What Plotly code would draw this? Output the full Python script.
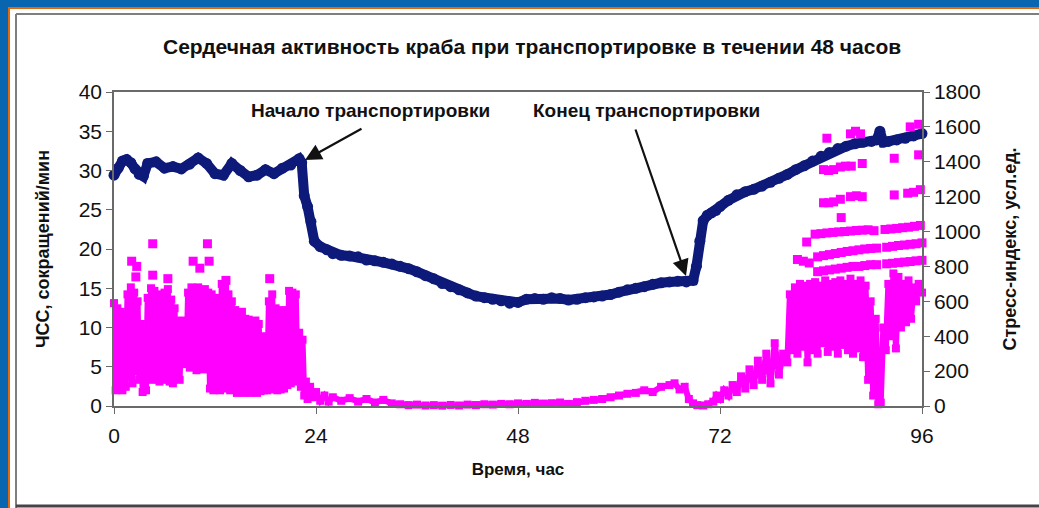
import plotly.graph_objects as go

# ---------------- data ----------------
hr_hours = [0, 0.5, 1, 1.5, 2, 2.5, 3, 3.5, 4, 5,
            6, 7, 8, 9, 10, 11, 12, 13, 14, 15,
            16, 17, 18, 19, 20, 21, 22, 22.3, 22.6, 23,
            23.4, 23.8, 24.5, 25.3, 26, 27, 28, 29, 30, 31,
            32, 33, 34, 35, 36, 37, 38, 39, 40, 41,
            42, 43, 44, 45, 46, 47, 48, 49, 50, 51,
            52, 53, 54, 55, 56, 57, 58, 59, 60, 61,
            62, 63, 64, 65, 66, 67, 68, 68.8, 69.2, 69.6,
            70, 70.5, 71, 71.5, 72, 73, 74, 75, 76, 77,
            78, 79, 80, 81, 82, 83, 84, 85, 86, 87,
            88, 89, 90, 90.6, 91, 91.4, 92, 93, 94, 95,
            96]
hr_values = [29.4, 30.3, 31.2, 31.4, 31.0, 30.2, 29.5, 29.3, 30.9, 31.1,
             30.3, 30.5, 30.2, 30.8, 31.6, 30.9, 29.6, 29.4, 30.9, 30.0,
             29.2, 29.4, 30.1, 29.6, 30.3, 30.7, 31.5, 31.0, 26.8, 25.4,
             23.5, 21.0, 20.3, 19.9, 19.4, 19.2, 19.1, 19.0, 18.6, 18.5,
             18.3, 18.1, 17.8, 17.5, 17.1, 16.6, 16.2, 15.6, 15.2, 14.8,
             14.4, 14.0, 13.8, 13.6, 13.4, 13.1, 13.2, 13.6, 13.7, 13.6,
             13.8, 13.7, 13.5, 13.6, 13.8, 13.9, 14.0, 14.2, 14.5, 14.8,
             15.0, 15.2, 15.5, 15.7, 15.8, 15.9, 15.8, 16.0, 17.8, 21.0,
             23.6, 24.3, 24.6, 24.9, 25.4, 26.2, 26.9, 27.3, 27.6, 28.0,
             28.5, 29.0, 29.5, 30.1, 30.6, 31.2, 31.8, 32.3, 32.8, 33.1,
             33.4, 33.6, 33.7, 33.9, 35.0, 33.6, 33.7, 33.9, 34.1, 34.4,
             34.7]

stress_hours = [0.0, 0.2, 0.4, 0.6, 0.8, 1.0, 1.2, 1.4, 1.6, 1.8,
                2.0, 2.2, 2.4, 2.6, 2.8, 3.0, 3.2, 3.4, 3.6, 3.8,
                4.0, 4.2, 4.4, 4.6, 4.8, 5.0, 5.2, 5.4, 5.6, 5.8,
                6.0, 6.2, 6.4, 6.6, 6.8, 7.0, 7.2, 7.4, 7.6, 7.8,
                8.0, 8.2, 8.4, 8.6, 8.8, 9.0, 9.2, 9.4, 9.6, 9.8,
                10.0, 10.2, 10.4, 10.6, 10.8, 11.0, 11.2, 11.4, 11.6, 11.8,
                12.0, 12.2, 12.4, 12.6, 12.8, 13.0, 13.2, 13.4, 13.6, 13.8,
                14.0, 14.2, 14.4, 14.6, 14.8, 15.0, 15.2, 15.4, 15.6, 15.8,
                16.0, 16.2, 16.4, 16.6, 16.8, 17.0, 17.2, 17.4, 17.6, 17.8,
                18.0, 18.2, 18.4, 18.6, 18.8, 19.0, 19.2, 19.4, 19.6, 19.8,
                20.0, 20.2, 20.4, 20.6, 20.8, 21.0, 21.2, 21.4, 21.6, 21.8,
                22.0, 22.2, 22.4, 22.6, 22.8, 23.0, 23.3, 23.6, 24.0, 24.5,
                25.0, 25.5, 26, 27, 28, 29, 30, 31, 32, 33,
                34, 35, 36, 37, 38, 39, 40, 41, 42, 43,
                44, 45, 46, 47, 48, 49, 50, 51, 52, 53,
                54, 55, 56, 57, 58, 59, 60, 61, 62, 63,
                64, 65, 66, 66.6, 67.2, 67.8, 68.3, 68.8, 69.3, 70,
                70.6, 71.2, 71.6, 72, 72.5, 73, 73.5, 74, 74.5, 75,
                75.5, 76, 76.5, 77, 77.5, 78, 78.5, 79, 79.5, 80,
                80.3, 80.6, 80.9, 81.2, 81.5, 81.8, 82.1, 82.4, 82.7, 83.0,
                83.3, 83.6, 83.9, 84.2, 84.5, 84.8, 85.1, 85.4, 85.7, 86.0,
                86.3, 86.6, 86.9, 87.2, 87.5, 87.8, 88.1, 88.4, 88.7, 89.0,
                89.3, 89.6, 89.9, 90.2, 90.5, 90.8, 91.1, 91.4, 91.7, 92.0,
                92.3, 92.6, 92.9, 93.2, 93.5, 93.8, 94.1, 94.4, 94.7, 95.0,
                95.3, 95.6, 96.0]
stress_values = [590, 90, 560, 100, 540, 90, 520, 110, 640, 170,
                 680, 130, 650, 200, 600, 150, 470, 80, 430, 90,
                 620, 160, 675, 150, 660, 170, 640, 140, 600, 180,
                 650, 150, 670, 140, 610, 130, 560, 160, 480, 150,
                 490, 280, 470, 240, 650, 220, 680, 240, 670, 205,
                 680, 230, 660, 210, 670, 240, 650, 100, 640, 90,
                 600, 100, 620, 90, 700, 100, 680, 120, 640, 90,
                 600, 100, 550, 75, 530, 80, 540, 75, 500, 80,
                 495, 75, 480, 80, 490, 75, 470, 85, 400, 90,
                 380, 90, 600, 100, 640, 95, 560, 90, 540, 95,
                 550, 100, 520, 120, 660, 130, 650, 140, 640, 150,
                 420, 110, 380, 60, 140, 40, 110, 50, 80, 30,
                 60, 25, 50, 30, 45, 25, 40, 20, 35, 15,
                 10, 5, 8, 3, 5, 2, 6, 3, 8, 5,
                 10, 8, 12, 10, 15, 12, 18, 14, 16, 20,
                 12, 22, 30, 35, 40, 50, 60, 70, 75, 90,
                 80, 110, 120, 130, 95, 110, 40, 15, 5, 3,
                 10, 25, 60, 40, 90, 60, 120, 80, 170, 100,
                 210, 120, 260, 150, 300, 130, 360, 180, 300, 250,
                 640, 320, 680, 300, 700, 340, 690, 250, 700, 320,
                 710, 300, 690, 360, 720, 310, 700, 340, 710, 300,
                 720, 350, 700, 320, 730, 300, 700, 330, 720, 280,
                 690, 150, 600, 60, 500, 10, 20, 450, 320, 700,
                 400, 760, 330, 740, 450, 700, 480, 720, 500, 680,
                 600, 700, 650]

stress_hi_hours = [2.1, 2.7, 2.6, 4.6, 4.6, 6.4, 9.4, 10.2, 11.1, 11.3, 13.3, 18.5,
                   81.2, 81.9, 82.6, 83.6, 84.3, 85.0, 85.7, 86.4, 87.1, 87.8,
                   88.5, 89.2, 89.9, 90.6, 91.8, 92.5, 93.2, 93.9, 94.6, 95.3, 96.0,
                   83.6, 84.3, 85.0, 85.7, 86.4, 87.1, 87.8, 88.5, 89.2, 89.9,
                   90.6, 91.8, 92.5, 93.2, 93.9, 94.6, 95.3, 96.0,
                   82.3, 83.3, 84.0, 84.7, 85.4, 86.1, 86.8, 87.5, 88.2, 88.9,
                   89.6, 90.3, 91.6, 92.3, 93.0, 93.7, 94.4, 95.1, 95.8, 96.3,
                   84.3, 84.9, 85.5, 86.3, 86.4, 87.5, 88.2, 88.9, 92.7, 94.3, 95.0, 95.8,
                   84.3, 84.9, 85.5, 86.3, 86.9, 87.6, 88.9, 92.7, 95.6,
                   84.7, 87.5, 88.1, 88.7, 94.6, 95.6]
stress_hi_values = [830, 800, 740, 930, 750, 730, 830, 790, 930, 830, 720, 730,
                    840, 830, 820, 770, 775, 780, 785, 790, 795, 800,
                    800, 805, 810, 810, 815, 818, 822, 825, 828, 832, 835,
                    855, 862, 868, 874, 880, 886, 890, 895, 900, 903,
                    905, 910, 915, 920, 923, 927, 930, 935,
                    940, 985, 988, 992, 995, 998, 1000, 1003, 1006, 1008,
                    1010, 1005, 1012, 1015, 1018, 1022, 1025, 1030, 1035, 1040,
                    1165, 1165, 1170, 1185, 1080, 1200, 1205, 1200, 1210, 1220, 1225, 1240,
                    1355, 1350, 1355, 1370, 1375, 1375, 1390, 1420, 1440,
                    1535, 1560, 1575, 1560, 1600, 1615]

x_ticks = [0, 24, 48, 72, 96]
chart_title = "Сердечная активность краба при транспортировке в течении 48 часов"
x_title = "Время, час"
y_title = "ЧСС, сокращений/мин"
y2_title = "Стресс-индекс, усл.ед."
label_start = "Начало транспортировки"
label_end = "Конец транспортировки"

# ---------------- layout geometry (pixels) ----------------
W, H = 1039, 508
PL, PR, PT, PB = 114, 922, 92, 406
FONT = "Liberation Sans, Arial, sans-serif"
NAVY = "#0D1A7A"
MAGENTA = "#FF00FF"
AXIS = "#6a6a6a"
TXT = "#111111"


def px(x):
    return (x - PL) / (PR - PL)


def py(y):
    return (PB - y) / (PB - PT)


fig = go.Figure()

fig.add_trace(go.Scatter(
    x=stress_hours, y=stress_values, yaxis="y2", mode="lines+markers",
    line=dict(color=MAGENTA, width=6),
    marker=dict(symbol="square", size=8, color=MAGENTA),
    cliponaxis=False, showlegend=False, hoverinfo="skip"))
fig.add_trace(go.Scatter(
    x=stress_hi_hours, y=stress_hi_values, yaxis="y2", mode="markers",
    marker=dict(symbol="square", size=9, color=MAGENTA),
    cliponaxis=False, showlegend=False, hoverinfo="skip"))
fig.add_trace(go.Scatter(
    x=hr_hours, y=hr_values, yaxis="y", mode="lines+markers",
    line=dict(color=NAVY, width=10),
    marker=dict(symbol="circle", size=11, color=NAVY),
    cliponaxis=False, showlegend=False, hoverinfo="skip"))

tickfont = dict(family=FONT, size=21, color=TXT)

fig.update_layout(
    width=W, height=H,
    margin=dict(l=PL, r=W - PR, t=PT, b=H - PB),
    paper_bgcolor="white", plot_bgcolor="white",
    showlegend=False,
    xaxis=dict(range=[0, 96], tickvals=x_ticks, ticks="outside", ticklen=6,
               tickcolor=AXIS, showline=True, linecolor=AXIS, linewidth=1.5,
               mirror=True, showgrid=False, zeroline=False, tickfont=tickfont,
               ticklabelstandoff=4,
               title=dict(text="<b>" + x_title + "</b>",
                          font=dict(family=FONT, size=17, color=TXT), standoff=17)),
    yaxis=dict(range=[0, 40], dtick=5, ticks="outside", ticklen=6, tickcolor=AXIS,
               showline=True, linecolor=AXIS, linewidth=1.5, showgrid=False,
               zeroline=False, tickfont=tickfont,
               title=dict(text="<b>" + y_title + "</b>",
                          font=dict(family=FONT, size=18, color=TXT), standoff=24)),
    yaxis2=dict(range=[0, 1800], dtick=200, overlaying="y", side="right",
                ticks="outside", ticklen=6, tickcolor=AXIS, showline=True,
                linecolor=AXIS, linewidth=1.5, showgrid=False, zeroline=False,
                tickfont=tickfont,
                title=dict(text="<b>" + y2_title + "</b>",
                           font=dict(family=FONT, size=18, color=TXT), standoff=24)),
)

annotations = [
    dict(text="<b>" + chart_title + "</b>", xref="paper", yref="paper",
         x=px(532), y=py(46), xanchor="center", yanchor="middle", showarrow=False,
         font=dict(family=FONT, size=21, color=TXT)),
    dict(text="<b>" + label_start + "</b>", xref="paper", yref="paper",
         x=px(370), y=py(110), xanchor="center", yanchor="middle", showarrow=False,
         font=dict(family=FONT, size=19, color=TXT)),
    dict(text="<b>" + label_end + "</b>", xref="paper", yref="paper",
         x=px(646), y=py(110), xanchor="center", yanchor="middle", showarrow=False,
         font=dict(family=FONT, size=19, color=TXT)),
    dict(text="", xref="paper", yref="paper", x=px(305), y=py(160),
         ax=363 - 305, ay=128 - 160, showarrow=True, arrowhead=2,
         arrowsize=1.5, arrowwidth=2.2, arrowcolor=TXT),
    dict(text="", xref="paper", yref="paper", x=px(686), y=py(276),
         ax=635 - 686, ay=128 - 276, showarrow=True, arrowhead=2,
         arrowsize=1.5, arrowwidth=2.2, arrowcolor=TXT),
]
fig.update_layout(annotations=annotations)

# slide frame (blue/orange band and grey border)
BLUE = "#0866B0"
ORANGE = "#E0690F"
shapes = [
    dict(type="rect", xref="paper", yref="paper", x0=px(0), x1=px(8), y0=py(0), y1=py(H),
         fillcolor=BLUE, line_width=0, layer="above"),
    dict(type="rect", xref="paper", yref="paper", x0=px(0), x1=px(W), y0=py(0), y1=py(7),
         fillcolor=BLUE, line_width=0, layer="above"),
    dict(type="rect", xref="paper", yref="paper", x0=px(8), x1=px(10), y0=py(7), y1=py(H),
         fillcolor=ORANGE, line_width=0, layer="above"),
    dict(type="rect", xref="paper", yref="paper", x0=px(8), x1=px(W), y0=py(7), y1=py(9),
         fillcolor=ORANGE, line_width=0, layer="above"),
    dict(type="line", xref="paper", yref="paper", x0=px(16), x1=px(16), y0=py(14), y1=py(H),
         line=dict(color="#7f7f7f", width=2)),
    dict(type="line", xref="paper", yref="paper", x0=px(16), x1=px(W), y0=py(14), y1=py(14),
         line=dict(color="#7f7f7f", width=2)),
    dict(type="line", xref="paper", yref="paper", x0=px(16), x1=px(W), y0=py(506), y1=py(506),
         line=dict(color="#444444", width=3)),
]
fig.update_layout(shapes=shapes)

fig.write_html("out.html")
